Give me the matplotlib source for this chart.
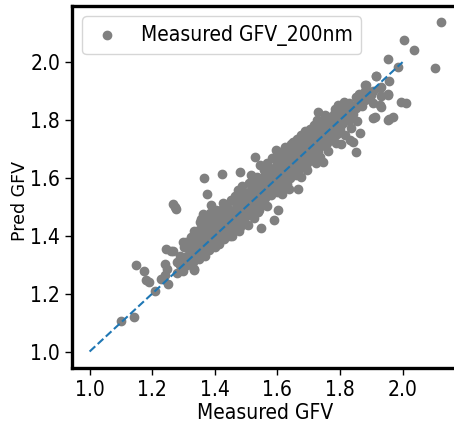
import matplotlib
matplotlib.use("Agg")
import matplotlib.pyplot as plt

# reference y = x line
ref_line = [1.0, 2.0]

# low tail (measured, pred)
tail_pts = [
    (1.101, 1.105), (1.142, 1.121), (1.147, 1.300), (1.173, 1.277), (1.181, 1.246),
    (1.189, 1.240), (1.208, 1.208), (1.229, 1.251), (1.240, 1.263), (1.252, 1.234),
    (1.242, 1.303), (1.245, 1.355), (1.261, 1.346), (1.248, 1.286), (1.272, 1.499),
    (1.277, 1.493), (1.266, 1.511), (1.301, 1.361), (1.309, 1.378), (1.333, 1.286),
    (1.325, 1.396), (1.357, 1.424), (1.367, 1.460), (1.394, 1.447), (1.362, 1.476),
    (1.357, 1.459), (1.389, 1.505), (1.383, 1.401), (1.335, 1.283), (1.304, 1.373),
    (1.298, 1.378), (1.266, 1.349), (1.325, 1.390), (1.367, 1.598), (1.424, 1.615),
    (1.375, 1.543), (1.362, 1.453),
]

# main band (measured, pred)
band_pts = [
    (1.28, 1.27), (1.28, 1.31), (1.29, 1.30), (1.29, 1.33), (1.30, 1.28), (1.30, 1.32),
    (1.31, 1.33), (1.31, 1.30), (1.32, 1.31), (1.32, 1.35), (1.32, 1.36),
    (1.33, 1.34), (1.33, 1.31), (1.33, 1.38), (1.34, 1.33), (1.34, 1.36), (1.34, 1.40),
    (1.35, 1.35), (1.35, 1.38), (1.35, 1.32), (1.35, 1.42), (1.36, 1.37), (1.36, 1.34),
    (1.36, 1.40), (1.37, 1.36), (1.37, 1.39), (1.37, 1.42), (1.37, 1.33),
    (1.38, 1.38), (1.38, 1.41), (1.38, 1.35), (1.38, 1.44), (1.39, 1.40), (1.39, 1.37),
    (1.39, 1.43), (1.39, 1.46), (1.40, 1.39), (1.40, 1.42), (1.40, 1.36), (1.40, 1.45),
    (1.41, 1.41), (1.41, 1.44), (1.41, 1.38), (1.41, 1.47), (1.42, 1.43), (1.42, 1.40),
    (1.42, 1.46), (1.42, 1.49), (1.43, 1.42), (1.43, 1.45), (1.43, 1.39), (1.43, 1.48),
    (1.44, 1.44), (1.44, 1.47), (1.44, 1.41), (1.44, 1.50), (1.45, 1.46), (1.45, 1.43),
    (1.45, 1.49), (1.45, 1.40), (1.46, 1.45), (1.46, 1.48), (1.46, 1.42), (1.46, 1.52),
    (1.47, 1.47), (1.47, 1.50), (1.47, 1.44), (1.48, 1.49), (1.48, 1.46), (1.48, 1.52),
    (1.48, 1.43), (1.49, 1.48), (1.49, 1.51), (1.49, 1.45), (1.49, 1.54), (1.50, 1.50),
    (1.50, 1.53), (1.50, 1.47), (1.50, 1.44), (1.51, 1.52), (1.51, 1.49), (1.51, 1.55),
    (1.52, 1.51), (1.52, 1.54), (1.52, 1.48), (1.52, 1.57), (1.53, 1.53), (1.53, 1.56),
    (1.53, 1.50), (1.54, 1.55), (1.54, 1.52), (1.54, 1.58), (1.54, 1.49), (1.55, 1.54),
    (1.55, 1.57), (1.55, 1.51), (1.56, 1.56), (1.56, 1.59), (1.56, 1.53), (1.56, 1.61),
    (1.57, 1.58), (1.57, 1.55), (1.57, 1.61), (1.58, 1.57), (1.58, 1.60), (1.58, 1.54),
    (1.58, 1.63), (1.59, 1.59), (1.59, 1.62), (1.59, 1.56), (1.60, 1.61), (1.60, 1.58),
    (1.60, 1.64), (1.60, 1.55), (1.61, 1.60), (1.61, 1.63), (1.61, 1.57), (1.61, 1.66),
    (1.62, 1.62), (1.62, 1.65), (1.62, 1.59), (1.63, 1.64), (1.63, 1.61), (1.63, 1.67),
    (1.63, 1.58), (1.64, 1.63), (1.64, 1.66), (1.64, 1.60), (1.64, 1.69), (1.65, 1.65),
    (1.65, 1.68), (1.65, 1.62), (1.66, 1.67), (1.66, 1.64), (1.66, 1.70), (1.66, 1.61),
    (1.67, 1.66), (1.67, 1.69), (1.67, 1.63), (1.67, 1.72), (1.68, 1.68), (1.68, 1.71),
    (1.68, 1.65), (1.69, 1.70), (1.69, 1.67), (1.69, 1.73), (1.69, 1.64), (1.70, 1.69),
    (1.70, 1.72), (1.70, 1.66), (1.70, 1.75), (1.71, 1.71), (1.71, 1.74), (1.71, 1.68),
    (1.72, 1.73), (1.72, 1.70), (1.72, 1.76), (1.72, 1.67), (1.73, 1.72), (1.73, 1.75),
    (1.73, 1.69), (1.74, 1.74), (1.74, 1.77), (1.74, 1.71), (1.74, 1.79), (1.75, 1.76),
    (1.75, 1.73), (1.75, 1.78), (1.76, 1.75), (1.76, 1.78), (1.76, 1.72), (1.77, 1.77),
    (1.77, 1.80), (1.77, 1.74), (1.78, 1.79), (1.78, 1.76), (1.78, 1.82), (1.79, 1.78),
    (1.79, 1.81), (1.79, 1.75), (1.80, 1.80), (1.80, 1.83), (1.80, 1.77), (1.81, 1.82),
    (1.81, 1.79), (1.82, 1.81), (1.82, 1.84), (1.83, 1.83), (1.83, 1.86), (1.83, 1.80),
    (1.84, 1.85), (1.84, 1.82), (1.85, 1.84), (1.85, 1.88), (1.86, 1.86), (1.86, 1.89),
    (1.87, 1.88), (1.87, 1.85), (1.88, 1.90), (1.88, 1.87),
]

# loose points on both edges of the band (measured, pred)
edge_pts = [
    (1.335, 1.415), (1.352, 1.447), (1.368, 1.432), (1.385, 1.478), (1.398, 1.462),
    (1.405, 1.488), (1.418, 1.472), (1.427, 1.512), (1.436, 1.498), (1.452, 1.523),
    (1.463, 1.537), (1.475, 1.558), (1.487, 1.572), (1.495, 1.548), (1.508, 1.583),
    (1.522, 1.595), (1.535, 1.604), (1.546, 1.588), (1.557, 1.628), (1.568, 1.652),
    (1.583, 1.667), (1.594, 1.642), (1.606, 1.668), (1.617, 1.684), (1.628, 1.702),
    (1.642, 1.718), (1.655, 1.707), (1.664, 1.735), (1.676, 1.748), (1.688, 1.762),
    (1.703, 1.768), (1.716, 1.783), (1.727, 1.801), (1.742, 1.796), (1.763, 1.812),
    (1.784, 1.838), (1.795, 1.852), (1.813, 1.862),
    (1.415, 1.372), (1.455, 1.398), (1.478, 1.415), (1.505, 1.437), (1.525, 1.462),
    (1.566, 1.503), (1.615, 1.546), (1.636, 1.562), (1.675, 1.602), (1.695, 1.627),
    (1.724, 1.652), (1.762, 1.694), (1.787, 1.722), (1.815, 1.748), (1.836, 1.772),
    (1.855, 1.796),
]

# scattered points around the band and upper end (measured, pred)
top_pts = [
    (1.481, 1.621), (1.517, 1.609), (1.527, 1.672), (1.543, 1.644), (1.549, 1.428),
    (1.588, 1.453), (1.602, 1.488), (1.538, 1.483), (1.623, 1.707), (1.607, 1.690),
    (1.666, 1.563), (1.565, 1.638), (1.596, 1.696), (1.650, 1.725), (1.692, 1.707),
    (1.708, 1.742), (1.756, 1.770), (1.777, 1.805), (1.799, 1.776), (1.729, 1.829),
    (1.751, 1.817), (1.809, 1.834), (1.831, 1.730), (1.804, 1.718), (1.852, 1.690),
    (1.841, 1.725), (1.735, 1.672), (1.745, 1.655), (1.863, 1.754), (1.820, 1.839),
    (1.857, 1.862), (1.868, 1.874), (1.884, 1.920), (1.879, 1.920), (1.900, 1.886),
    (1.905, 1.857), (1.905, 1.900), (1.905, 1.808), (1.911, 1.811), (1.914, 1.953),
    (1.916, 1.952), (1.927, 1.851), (1.927, 1.912), (1.932, 1.882), (1.932, 1.914),
    (1.932, 1.845), (1.953, 1.891), (1.953, 1.886), (1.953, 1.799), (1.958, 1.934),
    (1.958, 1.805), (1.968, 1.811), (1.953, 2.010), (1.985, 1.984), (1.996, 1.862),
    (2.012, 1.857), (2.006, 2.076), (2.038, 2.042), (2.104, 1.978), (2.124, 2.137),
]

all_pts = tail_pts + band_pts + edge_pts + top_pts
measured = [p[0] for p in all_pts]
pred = [p[1] for p in all_pts]

plt.rcParams['font.family'] = ['DejaVu Sans']
plt.rcParams['font.stretch'] = 'condensed'

fig = plt.figure(figsize=(4.54, 4.28), dpi=100)
ax = fig.add_axes([72 / 454, 60 / 428, 387 / 454, 362 / 428])

ax.scatter(measured, pred, s=36, color='grey', label='Measured GFV_200nm', zorder=2)
ax.plot(ref_line, ref_line, '--', color='#1f77b4', lw=1.5, zorder=3)

ax.set_xticks([1.0, 1.2, 1.4, 1.6, 1.8, 2.0])
ax.set_yticks([1.0, 1.2, 1.4, 1.6, 1.8, 2.0])
ax.tick_params(labelsize=15, length=5, width=1)
for s in ax.spines.values():
    s.set_linewidth(2.4)

ax.set_xlabel('Measured GFV', fontsize=15, labelpad=2)
ax.set_ylabel('Pred GFV', fontsize=12.5, fontstretch='normal')
ax.yaxis.set_label_coords(-0.11, 0.46)
ax.legend(loc='upper left', fontsize=15, scatterpoints=1, handlelength=1.6)

fig.savefig('out.png', dpi=100)
